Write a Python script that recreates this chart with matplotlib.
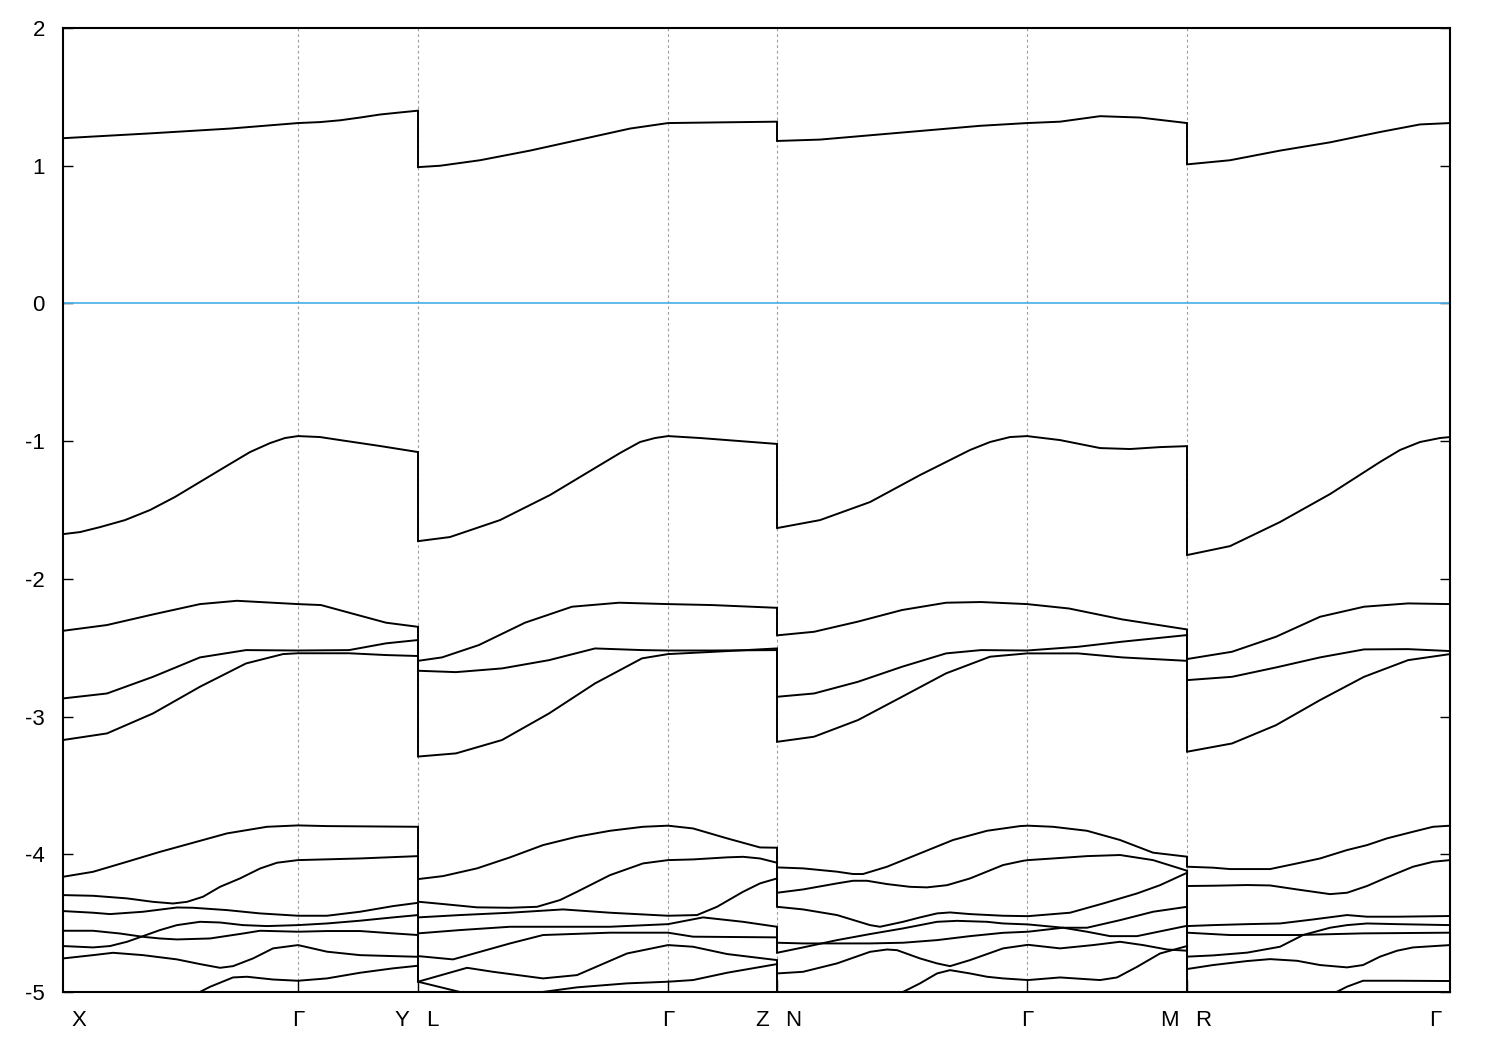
import numpy as np
import matplotlib.pyplot as plt

plt.rcParams['font.family'] = ['Liberation Sans', 'DejaVu Sans']
plt.rcParams['axes.unicode_minus'] = False

# high-symmetry points along the k-path
kpt_pos = [0.0, 2.35, 3.55, 3.55, 6.05, 7.14, 7.14, 9.64, 11.24, 11.24, 13.87]
kpt_lbl = ['X', 'Γ', 'Y', 'L', 'Γ', 'Z', 'N', 'Γ', 'M', 'R', 'Γ']
kpt_align = ['left', 'center', 'right', 'left', 'center', 'right', 'left',
             'center', 'right', 'left', 'right']
fermi = 0.0

# bands, one list per path segment: (k, E in eV)
seg_xy = [
    ([0, 0.87, 1.67, 2.35, 2.57, 2.77, 2.97, 3.17, 3.37, 3.55],
     [1.20, 1.235, 1.27, 1.31, 1.317, 1.33, 1.35, 1.372, 1.387, 1.40]),
    ([0, 0.17, 0.37, 0.62, 0.87, 1.12, 1.37, 1.62, 1.87, 2.07, 2.22, 2.35, 2.57, 2.77, 3.17, 3.55],
     [-1.675, -1.66, -1.624, -1.573, -1.50, -1.405, -1.296, -1.187, -1.079, -1.014,
      -0.977, -0.963, -0.970, -0.992, -1.035, -1.079]),
    ([0, 0.44, 0.90, 1.37, 1.74, 2.35, 2.58, 2.95, 3.23, 3.55],
     [-2.377, -2.335, -2.258, -2.183, -2.159, -2.183, -2.19, -2.263, -2.318, -2.348]),
    ([0, 0.44, 0.90, 1.37, 1.83, 2.35, 2.86, 3.23, 3.55],
     [-2.868, -2.832, -2.711, -2.57, -2.517, -2.52, -2.517, -2.468, -2.444]),
    ([0, 0.44, 0.90, 1.37, 1.83, 2.20, 2.35, 2.86, 3.23, 3.55],
     [-3.17, -3.122, -2.977, -2.783, -2.614, -2.546, -2.54, -2.54, -2.553, -2.56]),
    ([0, 0.30, 0.64, 0.97, 1.30, 1.64, 2.04, 2.35, 2.64, 3.55],
     [-4.163, -4.127, -4.054, -3.982, -3.916, -3.848, -3.80, -3.79, -3.795, -3.80]),
    ([0, 0.30, 0.64, 0.90, 1.10, 1.24, 1.40, 1.57, 1.77, 1.97, 2.14, 2.35, 2.97, 3.55],
     [-4.296, -4.301, -4.32, -4.345, -4.357, -4.345, -4.308, -4.236, -4.175, -4.103,
      -4.061, -4.042, -4.03, -4.013]),
    ([0, 0.30, 0.47, 0.80, 1.14, 1.30, 1.64, 1.97, 2.35, 2.64, 2.97, 3.30, 3.55],
     [-4.412, -4.424, -4.434, -4.417, -4.386, -4.388, -4.405, -4.429, -4.446, -4.446,
      -4.417, -4.376, -4.352]),
    ([0, 0.30, 0.57, 0.80, 0.97, 1.14, 1.47, 1.80, 1.97, 2.35, 2.64, 2.97, 3.30, 3.55],
     [-4.555, -4.555, -4.575, -4.599, -4.611, -4.618, -4.611, -4.575, -4.555, -4.562,
      -4.557, -4.557, -4.574, -4.586]),
    ([0, 0.30, 0.47, 0.64, 0.80, 0.97, 1.14, 1.37, 1.57, 1.80, 2.04, 2.35, 2.64, 2.97, 3.30, 3.55],
     [-4.666, -4.676, -4.666, -4.635, -4.594, -4.55, -4.514, -4.49, -4.495, -4.514,
      -4.521, -4.514, -4.502, -4.482, -4.458, -4.441]),
    ([0, 0.30, 0.50, 0.80, 1.14, 1.37, 1.57, 1.70, 1.90, 2.10, 2.35, 2.64, 2.97, 3.30, 3.55],
     [-4.756, -4.732, -4.715, -4.732, -4.763, -4.797, -4.824, -4.812, -4.756, -4.683,
      -4.659, -4.707, -4.732, -4.739, -4.744]),
    ([0, 1.34, 1.47, 1.70, 1.84, 2.10, 2.35, 2.64, 2.97, 3.30, 3.55],
     [-5.4, -5.01, -4.962, -4.894, -4.889, -4.909, -4.918, -4.901, -4.86, -4.828, -4.809]),
]

seg_lz = [
    ([3.55, 3.77, 4.17, 4.67, 5.17, 5.67, 6.05, 6.57, 7.14],
     [0.99, 1.00, 1.04, 1.11, 1.19, 1.27, 1.31, 1.315, 1.32]),
    ([3.55, 3.87, 4.37, 4.87, 5.37, 5.57, 5.77, 5.92, 6.05, 6.37, 7.14],
     [-1.726, -1.696, -1.573, -1.391, -1.173, -1.086, -1.006, -0.977, -0.963, -0.977, -1.02]),
    ([3.55, 3.79, 4.16, 4.62, 5.09, 5.56, 6.05, 6.49, 7.14],
     [-2.595, -2.57, -2.48, -2.318, -2.202, -2.173, -2.183, -2.19, -2.21]),
    ([3.55, 3.93, 4.39, 4.86, 5.32, 5.79, 6.05, 6.49, 7.14],
     [-2.667, -2.677, -2.65, -2.59, -2.505, -2.517, -2.52, -2.52, -2.517]),
    ([3.55, 3.93, 4.39, 4.86, 5.32, 5.79, 6.05, 6.49, 7.14],
     [-3.29, -3.267, -3.17, -2.977, -2.759, -2.577, -2.546, -2.53, -2.505]),
    ([3.55, 3.80, 4.14, 4.47, 4.80, 5.14, 5.47, 5.80, 6.05, 6.30, 6.64, 6.97, 7.14],
     [-4.18, -4.158, -4.102, -4.022, -3.933, -3.872, -3.829, -3.80, -3.792, -3.812,
      -3.884, -3.95, -3.952]),
    ([3.55, 3.80, 4.14, 4.47, 4.74, 4.97, 5.14, 5.47, 5.80, 6.05, 6.30, 6.64, 6.80, 6.97, 7.14],
     [-4.344, -4.361, -4.385, -4.388, -4.381, -4.332, -4.272, -4.151, -4.066, -4.042,
      -4.037, -4.022, -4.018, -4.03, -4.061]),
    ([3.55, 3.97, 4.47, 5.00, 5.47, 6.05, 6.34, 6.54, 6.80, 6.97, 7.14],
     [-4.458, -4.441, -4.424, -4.40, -4.424, -4.446, -4.441, -4.381, -4.272, -4.211, -4.175]),
    ([3.55, 3.97, 4.47, 5.47, 6.05, 6.40, 6.80, 7.14],
     [-4.574, -4.55, -4.526, -4.526, -4.507, -4.458, -4.49, -4.526]),
    ([3.55, 3.90, 4.47, 4.80, 5.47, 6.05, 6.30, 7.14],
     [-4.739, -4.763, -4.647, -4.586, -4.569, -4.569, -4.598, -4.603]),
    ([3.55, 4.04, 4.30, 4.80, 5.14, 5.64, 6.05, 6.30, 6.64, 7.14],
     [-4.925, -4.824, -4.853, -4.901, -4.877, -4.72, -4.659, -4.671, -4.724, -4.768]),
    ([3.55, 4.74, 5.14, 5.64, 6.05, 6.30, 6.64, 7.14],
     [-5.3, -5.005, -4.966, -4.937, -4.925, -4.913, -4.86, -4.797]),
    ([3.55, 4.00, 4.50], [-4.925, -5.005, -5.2]),
]

seg_nm = [
    ([7.14, 7.57, 8.37, 9.17, 9.64, 9.97, 10.37, 10.77, 11.24],
     [1.18, 1.19, 1.24, 1.29, 1.31, 1.32, 1.36, 1.35, 1.31]),
    ([7.14, 7.57, 8.07, 8.57, 9.07, 9.27, 9.47, 9.64, 9.97, 10.37, 10.67, 10.97, 11.24],
     [-1.631, -1.573, -1.442, -1.246, -1.064, -1.006, -0.97, -0.963, -0.992, -1.05, -1.057,
      -1.043, -1.036]),
    ([7.14, 7.51, 7.95, 8.39, 8.83, 9.18, 9.64, 10.06, 10.59, 11.24],
     [-2.41, -2.384, -2.31, -2.226, -2.173, -2.168, -2.183, -2.215, -2.294, -2.367]),
    ([7.14, 7.51, 7.95, 8.39, 8.83, 9.18, 9.64, 10.15, 10.59, 11.24],
     [-2.856, -2.832, -2.747, -2.638, -2.541, -2.517, -2.52, -2.493, -2.456, -2.408]),
    ([7.14, 7.51, 7.95, 8.39, 8.83, 9.27, 9.64, 10.15, 10.59, 11.24],
     [-3.183, -3.146, -3.025, -2.856, -2.686, -2.565, -2.541, -2.541, -2.57, -2.595]),
    ([7.14, 7.40, 7.74, 7.90, 8.00, 8.24, 8.57, 8.90, 9.24, 9.57, 9.65, 9.90, 10.24, 10.57, 10.90, 11.24],
     [-4.095, -4.102, -4.126, -4.143, -4.143, -4.09, -3.993, -3.896, -3.829, -3.795,
      -3.792, -3.80, -3.829, -3.896, -3.988, -4.017]),
    ([7.14, 7.40, 7.74, 7.90, 8.04, 8.24, 8.47, 8.64, 8.84, 9.07, 9.40, 9.60, 9.65, 9.90,
      10.24, 10.57, 10.90, 11.24],
     [-4.279, -4.255, -4.211, -4.192, -4.192, -4.216, -4.236, -4.24, -4.224, -4.175,
      -4.078, -4.047, -4.042, -4.03, -4.013, -4.005, -4.042, -4.119]),
    ([7.14, 7.40, 7.74, 8.07, 8.17, 8.40, 8.57, 8.74, 8.87, 9.07, 9.40, 9.65, 10.07,
      10.40, 10.74, 10.97, 11.24],
     [-4.381, -4.40, -4.441, -4.514, -4.526, -4.49, -4.458, -4.429, -4.422, -4.434,
      -4.446, -4.449, -4.424, -4.357, -4.284, -4.224, -4.134]),
    ([7.14, 7.40, 7.74, 8.07, 8.40, 8.74, 9.07, 9.40, 9.65, 10.00, 10.24, 10.57, 10.90, 11.24],
     [-4.642, -4.647, -4.647, -4.647, -4.642, -4.623, -4.594, -4.570, -4.562, -4.533,
      -4.533, -4.478, -4.417, -4.381]),
    ([7.14, 7.40, 7.74, 8.07, 8.40, 8.74, 8.94, 9.24, 9.40, 9.65, 10.00, 10.24, 10.47,
      10.74, 11.00, 11.24],
     [-4.715, -4.676, -4.623, -4.579, -4.538, -4.49, -4.483, -4.49, -4.502, -4.509,
      -4.533, -4.562, -4.594, -4.594, -4.555, -4.519]),
    ([7.14, 7.40, 7.74, 8.07, 8.24, 8.34, 8.57, 8.74, 8.87, 9.07, 9.40, 9.65, 9.97,
      10.30, 10.57, 10.80, 11.04, 11.24],
     [-4.865, -4.853, -4.792, -4.708, -4.691, -4.696, -4.756, -4.792, -4.812, -4.768,
      -4.683, -4.657, -4.683, -4.659, -4.635, -4.659, -4.691, -4.70]),
    ([7.14, 8.37, 8.57, 8.74, 8.87, 9.07, 9.24, 9.40, 9.65, 9.97, 10.37, 10.54, 10.74, 10.97, 11.24],
     [-5.35, -5.01, -4.937, -4.865, -4.841, -4.865, -4.889, -4.901, -4.913, -4.894,
      -4.913, -4.894, -4.817, -4.72, -4.666]),
]

seg_rg = [
    ([11.24, 11.67, 12.17, 12.67, 13.17, 13.57, 13.87], [1.01, 1.04, 1.11, 1.17, 1.245, 1.30, 1.31]),
    ([11.24, 11.67, 12.17, 12.67, 13.17, 13.37, 13.57, 13.77, 13.87],
     [-1.827, -1.762, -1.587, -1.384, -1.151, -1.064, -1.006, -0.977, -0.97]),
    ([11.24, 11.69, 12.13, 12.57, 13.01, 13.45, 13.87],
     [-2.582, -2.529, -2.42, -2.275, -2.202, -2.178, -2.183]),
    ([11.24, 11.69, 12.13, 12.57, 13.01, 13.45, 13.87],
     [-2.735, -2.711, -2.643, -2.57, -2.512, -2.51, -2.524]),
    ([11.24, 11.69, 12.13, 12.57, 13.01, 13.45, 13.87],
     [-3.255, -3.195, -3.062, -2.88, -2.711, -2.59, -2.546]),
    ([11.24, 11.50, 11.67, 12.07, 12.34, 12.57, 12.84, 13.04, 13.24, 13.50, 13.70, 13.87],
     [-4.09, -4.097, -4.107, -4.107, -4.066, -4.03, -3.969, -3.933, -3.884, -3.836, -3.80, -3.792]),
    ([11.24, 11.50, 11.84, 12.07, 12.34, 12.67, 12.84, 13.04, 13.24, 13.50, 13.70, 13.87],
     [-4.23, -4.228, -4.223, -4.226, -4.255, -4.289, -4.279, -4.23, -4.167, -4.09, -4.054, -4.042]),
    ([11.24, 11.50, 11.84, 12.17, 12.50, 12.84, 13.04, 13.34, 13.87],
     [-4.521, -4.514, -4.507, -4.502, -4.473, -4.441, -4.453, -4.453, -4.448]),
    ([11.24, 11.67, 12.34, 13.00, 13.87], [-4.569, -4.586, -4.586, -4.574, -4.569]),
    ([11.24, 11.50, 11.84, 12.17, 12.40, 12.67, 12.84, 13.04, 13.34, 13.87],
     [-4.743, -4.734, -4.714, -4.671, -4.586, -4.533, -4.514, -4.502, -4.507, -4.514]),
    ([11.24, 11.50, 11.84, 12.07, 12.34, 12.57, 12.84, 13.00, 13.17, 13.34, 13.50, 13.87],
     [-4.833, -4.804, -4.775, -4.761, -4.773, -4.804, -4.821, -4.804, -4.743, -4.70, -4.676, -4.659]),
    ([11.24, 12.72, 12.84, 13.00, 13.34, 13.87], [-5.3, -5.005, -4.961, -4.918, -4.918, -4.92]),
]

segments = [seg_xy, seg_lz, seg_nm, seg_rg]

fig = plt.figure(figsize=(15, 10.5), dpi=100)
ax = fig.add_axes([0.042, 0.0552, 0.9247, 0.9181])

ax.set_xlim(kpt_pos[0], kpt_pos[-1])
ax.set_ylim(-5, 2)

# dashed lines at the inner high-symmetry points
inner = sorted(set(kpt_pos[1:-1]))
ax.vlines(inner, -5, 2, colors='#a0a0a0', linewidth=0.8, linestyles=(0, (2.5, 2.5)), zorder=1)

ax.axhline(fermi, color='#56b4e9', linewidth=1.3, zorder=2)

for seg in segments:
    for k, e in seg:
        ax.plot(k, e, color='black', linewidth=1.4, zorder=3)

# gnuplot joined bands across the path breaks in energy order
for left, right in zip(segments[:-1], segments[1:]):
    kb = left[0][0][-1]
    e_end = sorted([b[1][-1] for b in left], reverse=True)
    e_start = sorted([b[1][0] for b in right], reverse=True)
    n = max(len(e_end), len(e_start))
    e_end += [-9.0] * (n - len(e_end))
    e_start += [-9.0] * (n - len(e_start))
    ax.vlines([kb] * n, e_end, e_start, colors='black', linewidth=1.4, zorder=3)

ax.set_yticks(range(-5, 3))
ax.set_yticklabels([str(v) for v in range(-5, 3)])
ax.tick_params(axis='y', direction='in', length=7, width=1, left=True, right=True,
               pad=13, labelsize=16)
ax.set_xticks(inner)
ax.set_xticklabels([])
ax.tick_params(axis='x', direction='in', length=8.5, width=1, top=False)

for sp in ax.spines.values():
    sp.set_linewidth(1.5)

offsets = {'left': 6, 'center': 0, 'right': -6}
for pos, lbl, al in zip(kpt_pos, kpt_lbl, kpt_align):
    ax.annotate(lbl, xy=(pos, 0), xycoords=('data', 'axes fraction'),
                xytext=(offsets[al], -13), textcoords='offset points',
                ha=al, va='top', fontsize=16)

fig.savefig('out.png', dpi=100)
